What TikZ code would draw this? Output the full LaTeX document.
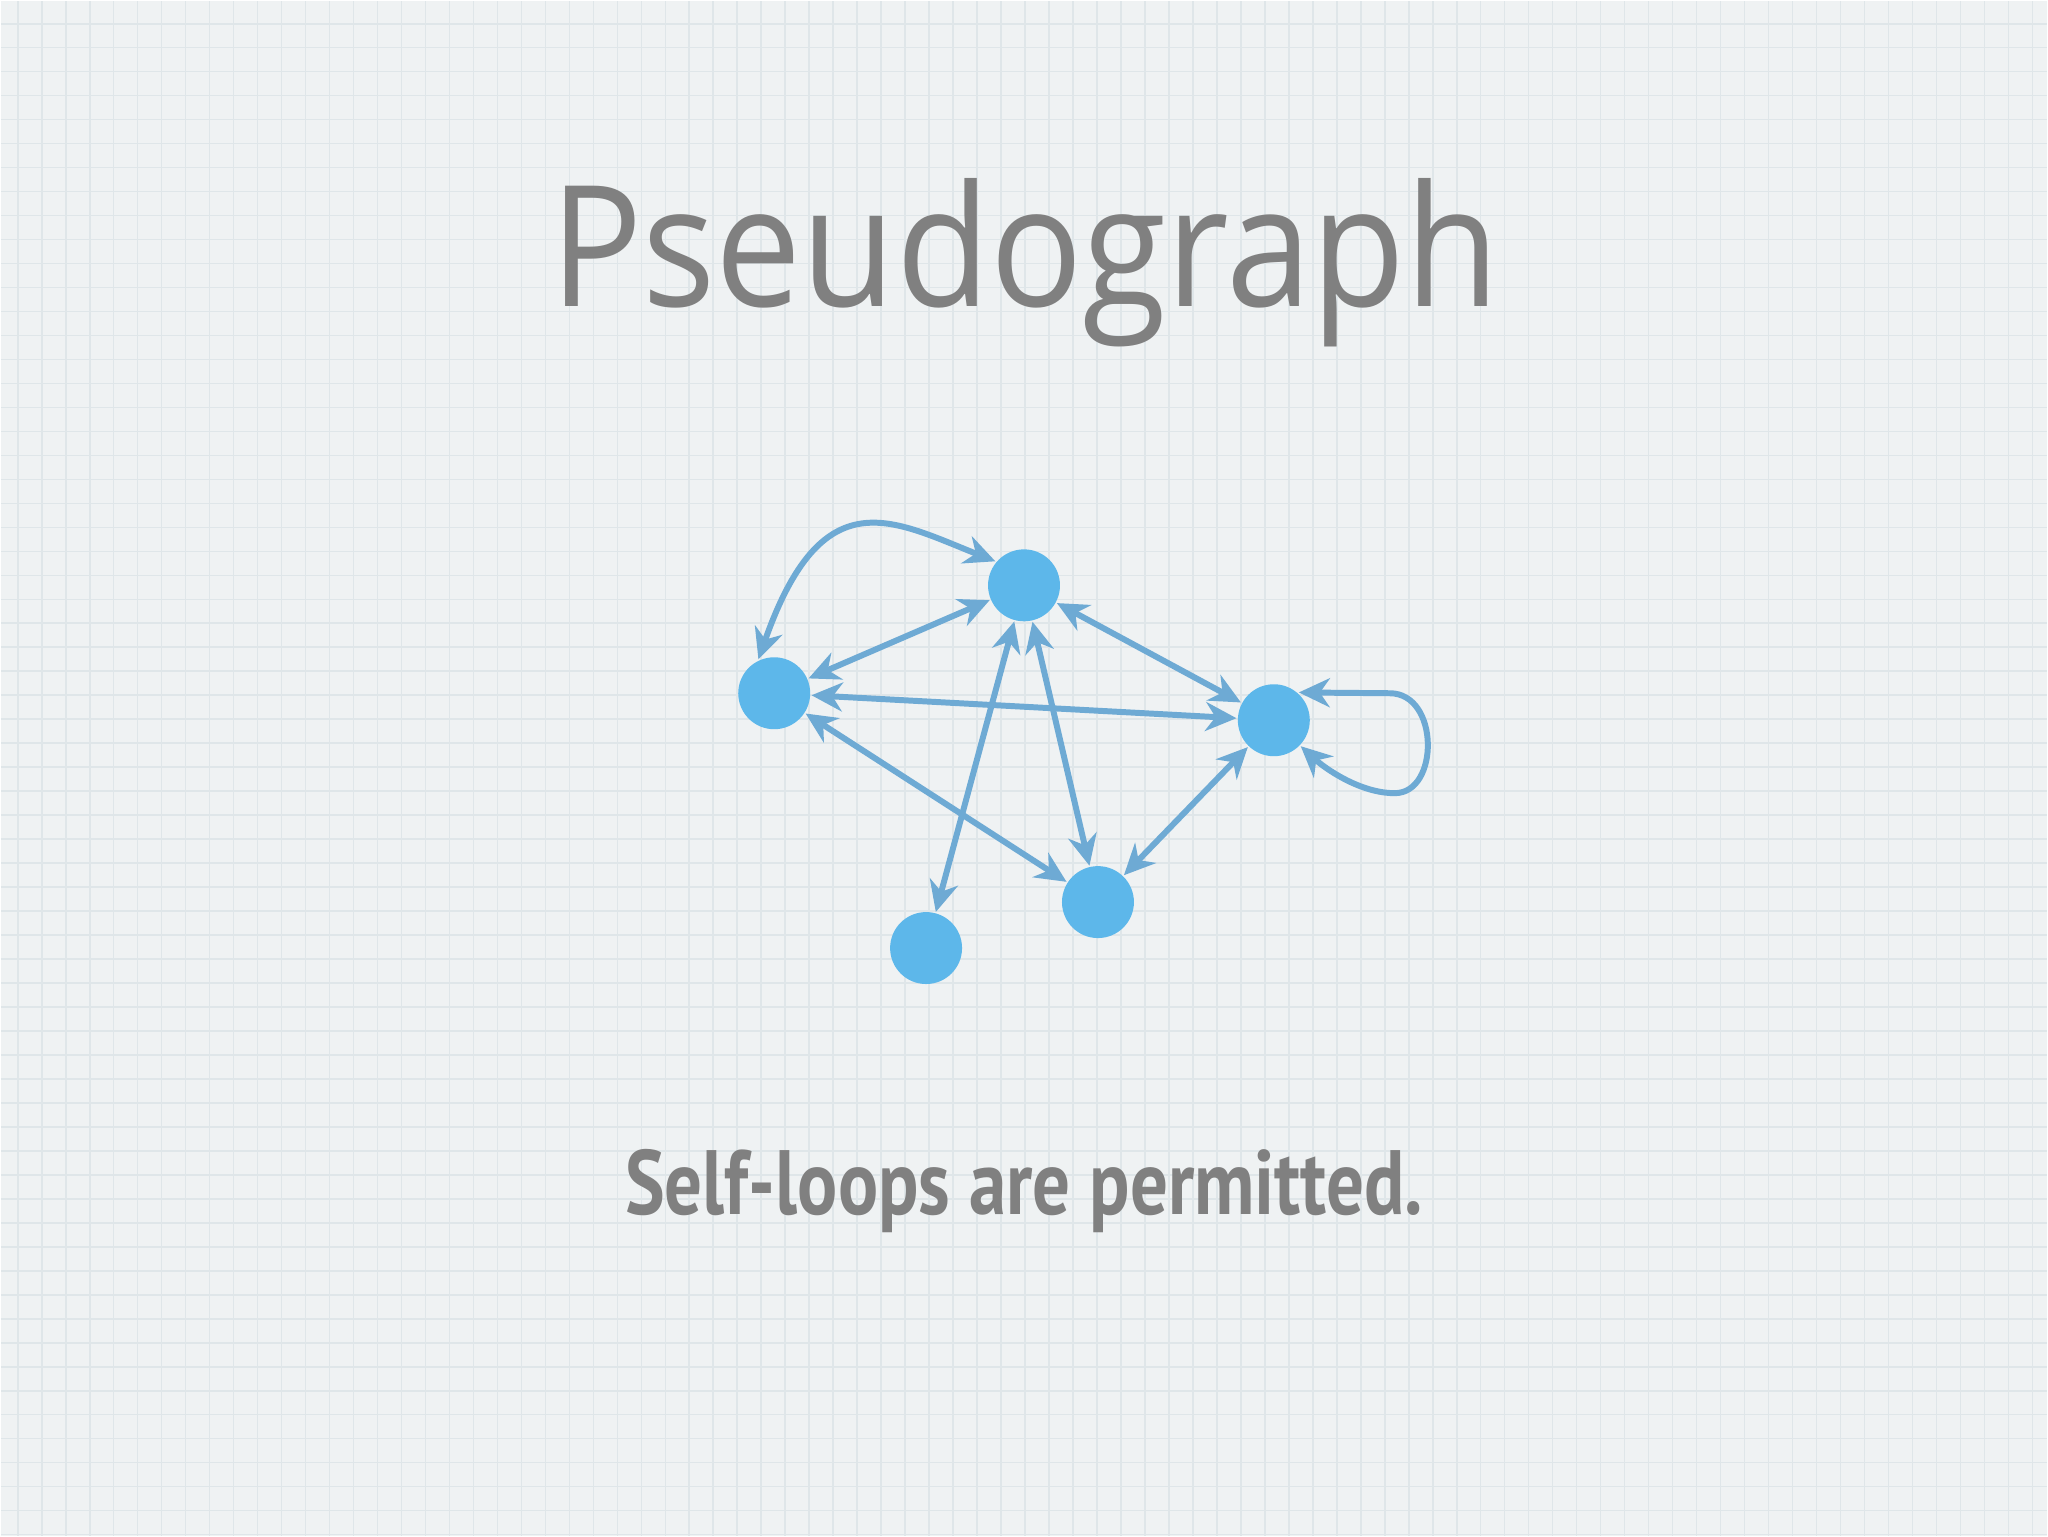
\documentclass[tikz,border=0pt]{standalone}
\usepackage{fontspec}
\usepackage{graphicx}
\usetikzlibrary{arrows.meta}
\newfontfamily\titlefont{Open Sans}
\newfontfamily\notefont{PT Sans}
\definecolor{paper}{HTML}{EFF2F3}
\definecolor{gridline}{HTML}{DFE6E9}
\definecolor{vertexblue}{HTML}{5DB7EA}
\definecolor{edgeblue}{HTML}{6EAAD4}
\definecolor{textgray}{HTML}{808080}

\begin{document}
\begin{tikzpicture}[
    thick,
    vertex/.style={circle, fill=vertexblue, minimum size=0.72cm, inner sep=0pt},
    edge/.style={{Stealth[length=3.1mm, width=2.9mm, inset=1mm]}-{Stealth[length=3.1mm, width=2.9mm, inset=1mm]}, edgeblue, line width=1.7pt}
]

% Paper
\fill[paper] (0,0) rectangle (20.48,15.36);
\foreach \gx in {0,...,84} \draw[gridline, line width=0.45pt] ({0.17+0.24*\gx},0) -- ({0.17+0.24*\gx},15.36);
\foreach \gy in {0,...,63} \draw[gridline, line width=0.45pt] (0,{0.01+0.24*\gy}) -- (20.48,{0.01+0.24*\gy});
\useasboundingbox (0,0) rectangle (20.48,15.36);

% Texts
\node[textgray, anchor=base, inner sep=0pt] (title) at (10.25,12.30) {\scalebox{0.91}[1]{\titlefont\fontsize{48}{48}\selectfont Pseudograph}};
\node[textgray, anchor=base, inner sep=0pt] (note) at (10.24,3.21) {\scalebox{0.82}[1]{\notefont\bfseries\fontsize{26}{26}\selectfont Self-loops are permitted.}};

% Nodes
\node[vertex] (hub) at (10.24,9.51) {};
\node[vertex] (west) at (7.74,8.43) {};
\node[vertex] (east) at (12.74,8.16) {};
\node[vertex] (south) at (10.98,6.34) {};
\node[vertex] (tail) at (9.26,5.88) {};

% Arrows
\draw[edge] (west.115) .. controls (8.22,10.59) and (8.92,10.16) .. (hub.140);
\draw[edge] (west) -- (hub);
\draw[edge] (hub) -- (east);
\draw[edge] (west) -- (east);
\draw[edge] (west) -- (south);
\draw[edge] (hub) -- (tail);
\draw[edge] (hub) -- (south);
\draw[edge] (south) -- (east);
\draw[edge] (east.48) -- (13.90,8.43) .. controls (14.40,8.43) and (14.40,7.43) .. (13.95,7.43) .. controls (13.60,7.43) and (13.25,7.68) .. (east.-44);

\end{tikzpicture}
\end{document}
